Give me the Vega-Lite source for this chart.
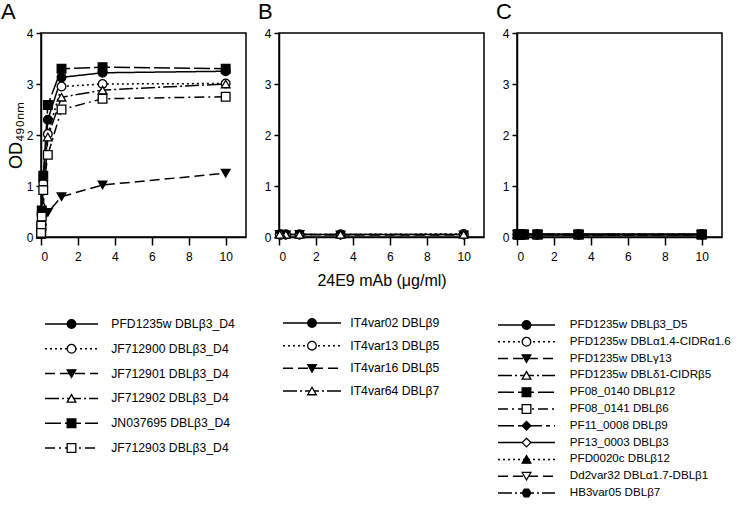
{
  "$schema": "https://vega.github.io/schema/vega-lite/v6.json",
  "background": "white",
  "padding": {"left": 0, "top": 0, "right": 0, "bottom": 0},
  "spacing": 33,
  "bounds": "flush",
  "resolve": {"scale": {"shape": "independent", "fill": "independent", "strokeDash": "independent"}},
  "datasets": {
    "A": [
      {"series": "PFD1235w DBLβ3_D4", "x": 10, "od": 3.25}, {"series": "PFD1235w DBLβ3_D4", "x": 3.333, "od": 3.22}, {"series": "PFD1235w DBLβ3_D4", "x": 1.111, "od": 3.13}, {"series": "PFD1235w DBLβ3_D4", "x": 0.37, "od": 2.30}, {"series": "PFD1235w DBLβ3_D4", "x": 0.123, "od": 1.10}, {"series": "PFD1235w DBLβ3_D4", "x": 0.041, "od": 0.45}, {"series": "PFD1235w DBLβ3_D4", "x": 0.0137, "od": 0.15}, {"series": "PFD1235w DBLβ3_D4", "x": 0.0046, "od": 0.06},
      {"series": "JF712900 DBLβ3_D4", "x": 10, "od": 3.01}, {"series": "JF712900 DBLβ3_D4", "x": 3.333, "od": 3.00}, {"series": "JF712900 DBLβ3_D4", "x": 1.111, "od": 2.95}, {"series": "JF712900 DBLβ3_D4", "x": 0.37, "od": 2.02}, {"series": "JF712900 DBLβ3_D4", "x": 0.123, "od": 1.05}, {"series": "JF712900 DBLβ3_D4", "x": 0.041, "od": 0.42}, {"series": "JF712900 DBLβ3_D4", "x": 0.0137, "od": 0.15}, {"series": "JF712900 DBLβ3_D4", "x": 0.0046, "od": 0.06},
      {"series": "JF712901 DBLβ3_D4", "x": 10, "od": 1.25}, {"series": "JF712901 DBLβ3_D4", "x": 3.333, "od": 1.02}, {"series": "JF712901 DBLβ3_D4", "x": 1.111, "od": 0.79}, {"series": "JF712901 DBLβ3_D4", "x": 0.37, "od": 0.48}, {"series": "JF712901 DBLβ3_D4", "x": 0.123, "od": 0.40}, {"series": "JF712901 DBLβ3_D4", "x": 0.041, "od": 0.18}, {"series": "JF712901 DBLβ3_D4", "x": 0.0137, "od": 0.08}, {"series": "JF712901 DBLβ3_D4", "x": 0.0046, "od": 0.05},
      {"series": "JF712902 DBLβ3_D4", "x": 10, "od": 3.00}, {"series": "JF712902 DBLβ3_D4", "x": 3.333, "od": 2.88}, {"series": "JF712902 DBLβ3_D4", "x": 1.111, "od": 2.74}, {"series": "JF712902 DBLβ3_D4", "x": 0.37, "od": 1.96}, {"series": "JF712902 DBLβ3_D4", "x": 0.123, "od": 0.60}, {"series": "JF712902 DBLβ3_D4", "x": 0.041, "od": 0.30}, {"series": "JF712902 DBLβ3_D4", "x": 0.0137, "od": 0.12}, {"series": "JF712902 DBLβ3_D4", "x": 0.0046, "od": 0.05},
      {"series": "JN037695 DBLβ3_D4", "x": 10, "od": 3.30}, {"series": "JN037695 DBLβ3_D4", "x": 3.333, "od": 3.33}, {"series": "JN037695 DBLβ3_D4", "x": 1.111, "od": 3.30}, {"series": "JN037695 DBLβ3_D4", "x": 0.37, "od": 2.59}, {"series": "JN037695 DBLβ3_D4", "x": 0.123, "od": 1.20}, {"series": "JN037695 DBLβ3_D4", "x": 0.041, "od": 0.52}, {"series": "JN037695 DBLβ3_D4", "x": 0.0137, "od": 0.18}, {"series": "JN037695 DBLβ3_D4", "x": 0.0046, "od": 0.07},
      {"series": "JF712903 DBLβ3_D4", "x": 10, "od": 2.75}, {"series": "JF712903 DBLβ3_D4", "x": 3.333, "od": 2.71}, {"series": "JF712903 DBLβ3_D4", "x": 1.111, "od": 2.50}, {"series": "JF712903 DBLβ3_D4", "x": 0.37, "od": 1.61}, {"series": "JF712903 DBLβ3_D4", "x": 0.123, "od": 0.92}, {"series": "JF712903 DBLβ3_D4", "x": 0.041, "od": 0.40}, {"series": "JF712903 DBLβ3_D4", "x": 0.0137, "od": 0.22}, {"series": "JF712903 DBLβ3_D4", "x": 0.0046, "od": 0.08}
    ],
    "B": [
      {"series": "IT4var02 DBLβ9", "x": 10, "od": 0.05}, {"series": "IT4var02 DBLβ9", "x": 3.333, "od": 0.05}, {"series": "IT4var02 DBLβ9", "x": 1.111, "od": 0.05}, {"series": "IT4var02 DBLβ9", "x": 0.37, "od": 0.05}, {"series": "IT4var02 DBLβ9", "x": 0.123, "od": 0.05}, {"series": "IT4var02 DBLβ9", "x": 0.041, "od": 0.05},
      {"series": "IT4var13 DBLβ5", "x": 10, "od": 0.06}, {"series": "IT4var13 DBLβ5", "x": 3.333, "od": 0.05}, {"series": "IT4var13 DBLβ5", "x": 1.111, "od": 0.05}, {"series": "IT4var13 DBLβ5", "x": 0.37, "od": 0.05}, {"series": "IT4var13 DBLβ5", "x": 0.123, "od": 0.05}, {"series": "IT4var13 DBLβ5", "x": 0.041, "od": 0.05},
      {"series": "IT4var16 DBLβ5", "x": 10, "od": 0.04}, {"series": "IT4var16 DBLβ5", "x": 3.333, "od": 0.04}, {"series": "IT4var16 DBLβ5", "x": 1.111, "od": 0.05}, {"series": "IT4var16 DBLβ5", "x": 0.37, "od": 0.04}, {"series": "IT4var16 DBLβ5", "x": 0.123, "od": 0.05}, {"series": "IT4var16 DBLβ5", "x": 0.041, "od": 0.05},
      {"series": "IT4var64 DBLβ7", "x": 10, "od": 0.05}, {"series": "IT4var64 DBLβ7", "x": 3.333, "od": 0.05}, {"series": "IT4var64 DBLβ7", "x": 1.111, "od": 0.05}, {"series": "IT4var64 DBLβ7", "x": 0.37, "od": 0.05}, {"series": "IT4var64 DBLβ7", "x": 0.123, "od": 0.05}, {"series": "IT4var64 DBLβ7", "x": 0.041, "od": 0.05}
    ],
    "C": [
      {"series": "PFD1235w DBLβ3_D5", "x": 10, "od": 0.05}, {"series": "PFD1235w DBLβ3_D5", "x": 3.333, "od": 0.05}, {"series": "PFD1235w DBLβ3_D5", "x": 1.111, "od": 0.05}, {"series": "PFD1235w DBLβ3_D5", "x": 0.37, "od": 0.05}, {"series": "PFD1235w DBLβ3_D5", "x": 0.123, "od": 0.05}, {"series": "PFD1235w DBLβ3_D5", "x": 0.041, "od": 0.05},
      {"series": "PFD1235w DBLα1.4-CIDRα1.6", "x": 10, "od": 0.05}, {"series": "PFD1235w DBLα1.4-CIDRα1.6", "x": 3.333, "od": 0.05}, {"series": "PFD1235w DBLα1.4-CIDRα1.6", "x": 1.111, "od": 0.05}, {"series": "PFD1235w DBLα1.4-CIDRα1.6", "x": 0.37, "od": 0.05}, {"series": "PFD1235w DBLα1.4-CIDRα1.6", "x": 0.123, "od": 0.05}, {"series": "PFD1235w DBLα1.4-CIDRα1.6", "x": 0.041, "od": 0.05},
      {"series": "PFD1235w DBLγ13", "x": 10, "od": 0.04}, {"series": "PFD1235w DBLγ13", "x": 3.333, "od": 0.04}, {"series": "PFD1235w DBLγ13", "x": 1.111, "od": 0.05}, {"series": "PFD1235w DBLγ13", "x": 0.37, "od": 0.05}, {"series": "PFD1235w DBLγ13", "x": 0.123, "od": 0.05}, {"series": "PFD1235w DBLγ13", "x": 0.041, "od": 0.05},
      {"series": "PFD1235w DBLδ1-CIDRβ5", "x": 10, "od": 0.05}, {"series": "PFD1235w DBLδ1-CIDRβ5", "x": 3.333, "od": 0.05}, {"series": "PFD1235w DBLδ1-CIDRβ5", "x": 1.111, "od": 0.05}, {"series": "PFD1235w DBLδ1-CIDRβ5", "x": 0.37, "od": 0.05}, {"series": "PFD1235w DBLδ1-CIDRβ5", "x": 0.123, "od": 0.05}, {"series": "PFD1235w DBLδ1-CIDRβ5", "x": 0.041, "od": 0.05},
      {"series": "PF08_0140 DBLβ12", "x": 10, "od": 0.05}, {"series": "PF08_0140 DBLβ12", "x": 3.333, "od": 0.05}, {"series": "PF08_0140 DBLβ12", "x": 1.111, "od": 0.05}, {"series": "PF08_0140 DBLβ12", "x": 0.37, "od": 0.05}, {"series": "PF08_0140 DBLβ12", "x": 0.123, "od": 0.05}, {"series": "PF08_0140 DBLβ12", "x": 0.041, "od": 0.05},
      {"series": "PF08_0141 DBLβ6", "x": 10, "od": 0.05}, {"series": "PF08_0141 DBLβ6", "x": 3.333, "od": 0.05}, {"series": "PF08_0141 DBLβ6", "x": 1.111, "od": 0.05}, {"series": "PF08_0141 DBLβ6", "x": 0.37, "od": 0.05}, {"series": "PF08_0141 DBLβ6", "x": 0.123, "od": 0.05}, {"series": "PF08_0141 DBLβ6", "x": 0.041, "od": 0.05},
      {"series": "PF11_0008 DBLβ9", "x": 10, "od": 0.05}, {"series": "PF11_0008 DBLβ9", "x": 3.333, "od": 0.05}, {"series": "PF11_0008 DBLβ9", "x": 1.111, "od": 0.05}, {"series": "PF11_0008 DBLβ9", "x": 0.37, "od": 0.05}, {"series": "PF11_0008 DBLβ9", "x": 0.123, "od": 0.05}, {"series": "PF11_0008 DBLβ9", "x": 0.041, "od": 0.05},
      {"series": "PF13_0003 DBLβ3", "x": 10, "od": 0.05}, {"series": "PF13_0003 DBLβ3", "x": 3.333, "od": 0.05}, {"series": "PF13_0003 DBLβ3", "x": 1.111, "od": 0.05}, {"series": "PF13_0003 DBLβ3", "x": 0.37, "od": 0.05}, {"series": "PF13_0003 DBLβ3", "x": 0.123, "od": 0.05}, {"series": "PF13_0003 DBLβ3", "x": 0.041, "od": 0.05},
      {"series": "PFD0020c DBLβ12", "x": 10, "od": 0.05}, {"series": "PFD0020c DBLβ12", "x": 3.333, "od": 0.05}, {"series": "PFD0020c DBLβ12", "x": 1.111, "od": 0.05}, {"series": "PFD0020c DBLβ12", "x": 0.37, "od": 0.05}, {"series": "PFD0020c DBLβ12", "x": 0.123, "od": 0.05}, {"series": "PFD0020c DBLβ12", "x": 0.041, "od": 0.05},
      {"series": "Dd2var32 DBLα1.7-DBLβ1", "x": 10, "od": 0.05}, {"series": "Dd2var32 DBLα1.7-DBLβ1", "x": 3.333, "od": 0.05}, {"series": "Dd2var32 DBLα1.7-DBLβ1", "x": 1.111, "od": 0.05}, {"series": "Dd2var32 DBLα1.7-DBLβ1", "x": 0.37, "od": 0.05}, {"series": "Dd2var32 DBLα1.7-DBLβ1", "x": 0.123, "od": 0.05}, {"series": "Dd2var32 DBLα1.7-DBLβ1", "x": 0.041, "od": 0.05},
      {"series": "HB3var05 DBLβ7", "x": 10, "od": 0.05}, {"series": "HB3var05 DBLβ7", "x": 3.333, "od": 0.05}, {"series": "HB3var05 DBLβ7", "x": 1.111, "od": 0.05}, {"series": "HB3var05 DBLβ7", "x": 0.37, "od": 0.05}, {"series": "HB3var05 DBLβ7", "x": 0.123, "od": 0.05}, {"series": "HB3var05 DBLβ7", "x": 0.041, "od": 0.05}
    ]
  },
  "hconcat": [
    {
      "title": {"text": "A", "anchor": "start", "frame": "group", "dx": -40, "fontSize": 22, "fontWeight": "normal", "offset": 3, "font": "Liberation Sans", "color": "black"},
      "width": 205, "height": 204,
      "data": {"name": "A"},
      "resolve": {"scale": {"x": "independent", "y": "independent"}},
      "layer": [
        {
          "layer": [
            {
              "mark": {"type": "line", "strokeWidth": 1.5, "color": "black"},
              "encoding": {
                "x": {"field": "x", "type": "quantitative", "scale": {"domain": [0, 11.1], "nice": false}, "axis": {"values": [0, 2, 4, 6, 8, 10], "title": null}},
                "y": {"field": "od", "type": "quantitative", "scale": {"domain": [0, 4], "nice": false}, "axis": {"values": [0, 1, 2, 3, 4], "format": "d", "title": "OD₄₉₀ₙₘ"}},
                "strokeDash": {"field": "series", "type": "nominal", "legend": null, "scale": {"domain": ["PFD1235w DBLβ3_D4", "JF712900 DBLβ3_D4", "JF712901 DBLβ3_D4", "JF712902 DBLβ3_D4", "JN037695 DBLβ3_D4", "JF712903 DBLβ3_D4"], "range": [[1, 0], [2, 3], [10, 5], [14, 3, 2, 3], [16, 4], [10, 4, 2, 4]]}}
              }
            },
            {
              "mark": {"type": "point", "filled": true, "size": 75, "stroke": "black", "strokeWidth": 1.3, "opacity": 1},
              "encoding": {
                "x": {"field": "x", "type": "quantitative"},
                "y": {"field": "od", "type": "quantitative"},
                "shape": {"field": "series", "type": "nominal", "legend": null, "scale": {"domain": ["PFD1235w DBLβ3_D4", "JF712900 DBLβ3_D4", "JF712901 DBLβ3_D4", "JF712902 DBLβ3_D4", "JN037695 DBLβ3_D4", "JF712903 DBLβ3_D4"], "range": ["circle", "circle", "triangle-down", "triangle-up", "square", "square"]}},
                "fill": {"field": "series", "type": "nominal", "legend": null, "scale": {"domain": ["PFD1235w DBLβ3_D4", "JF712900 DBLβ3_D4", "JF712901 DBLβ3_D4", "JF712902 DBLβ3_D4", "JN037695 DBLβ3_D4", "JF712903 DBLβ3_D4"], "range": ["black", "white", "black", "white", "black", "white"]}}
              }
            }
          ]
        },
        {
          "transform": [{"filter": {"field": "x", "equal": 10}}],
          "layer": [
            {
              "mark": {"type": "rule", "strokeWidth": 1.5, "color": "black"},
              "encoding": {
                "x": {"datum": 0, "type": "quantitative", "scale": {"domain": [0, 1], "range": [4, 57]}, "axis": null},
                "x2": {"datum": 1},
                "y": {"field": "series", "type": "nominal", "scale": {"type": "point", "padding": 0, "domain": ["PFD1235w DBLβ3_D4", "JF712900 DBLβ3_D4", "JF712901 DBLβ3_D4", "JF712902 DBLβ3_D4", "JN037695 DBLβ3_D4", "JF712903 DBLβ3_D4"], "range": [291, 415]}, "axis": null},
                "strokeDash": {"field": "series", "type": "nominal", "legend": null, "scale": {"domain": ["PFD1235w DBLβ3_D4", "JF712900 DBLβ3_D4", "JF712901 DBLβ3_D4", "JF712902 DBLβ3_D4", "JN037695 DBLβ3_D4", "JF712903 DBLβ3_D4"], "range": [[1, 0], [2, 3], [10, 5], [14, 3, 2, 3], [16, 4], [10, 4, 2, 4]]}}
              }
            },
            {
              "mark": {"type": "point", "filled": true, "size": 75, "stroke": "black", "strokeWidth": 1.3, "opacity": 1},
              "encoding": {
                "x": {"datum": 0.5, "type": "quantitative"},
                "y": {"field": "series", "type": "nominal"},
                "shape": {"field": "series", "type": "nominal", "legend": null, "scale": {"domain": ["PFD1235w DBLβ3_D4", "JF712900 DBLβ3_D4", "JF712901 DBLβ3_D4", "JF712902 DBLβ3_D4", "JN037695 DBLβ3_D4", "JF712903 DBLβ3_D4"], "range": ["circle", "circle", "triangle-down", "triangle-up", "square", "square"]}},
                "fill": {"field": "series", "type": "nominal", "legend": null, "scale": {"domain": ["PFD1235w DBLβ3_D4", "JF712900 DBLβ3_D4", "JF712901 DBLβ3_D4", "JF712902 DBLβ3_D4", "JN037695 DBLβ3_D4", "JF712903 DBLβ3_D4"], "range": ["black", "white", "black", "white", "black", "white"]}}
              }
            },
            {
              "mark": {"type": "text", "align": "left", "baseline": "middle", "fontSize": 12.2, "font": "Liberation Sans", "color": "black"},
              "encoding": {
                "x": {"datum": 1.25, "type": "quantitative"},
                "y": {"field": "series", "type": "nominal"},
                "text": {"field": "series"}
              }
            }
          ]
        }
      ]
    },
    {
      "title": {"text": "B", "anchor": "start", "frame": "group", "dx": -21, "fontSize": 22, "fontWeight": "normal", "offset": 3, "font": "Liberation Sans", "color": "black"},
      "width": 205, "height": 204,
      "data": {"name": "B"},
      "resolve": {"scale": {"x": "independent", "y": "independent"}},
      "layer": [
        {
          "layer": [
            {
              "mark": {"type": "line", "strokeWidth": 1.5, "color": "black"},
              "encoding": {
                "x": {"field": "x", "type": "quantitative", "scale": {"domain": [0, 11.1], "nice": false}, "axis": {"values": [0, 2, 4, 6, 8, 10], "title": "24E9 mAb (μg/ml)"}},
                "y": {"field": "od", "type": "quantitative", "scale": {"domain": [0, 4], "nice": false}, "axis": {"values": [0, 1, 2, 3, 4], "format": "d", "title": null}},
                "strokeDash": {"field": "series", "type": "nominal", "legend": null, "scale": {"domain": ["IT4var02 DBLβ9", "IT4var13 DBLβ5", "IT4var16 DBLβ5", "IT4var64 DBLβ7"], "range": [[1, 0], [2, 3], [10, 5], [14, 3, 2, 3]]}}
              }
            },
            {
              "mark": {"type": "point", "filled": true, "size": 75, "stroke": "black", "strokeWidth": 1.3, "opacity": 1},
              "encoding": {
                "x": {"field": "x", "type": "quantitative"},
                "y": {"field": "od", "type": "quantitative"},
                "shape": {"field": "series", "type": "nominal", "legend": null, "scale": {"domain": ["IT4var02 DBLβ9", "IT4var13 DBLβ5", "IT4var16 DBLβ5", "IT4var64 DBLβ7"], "range": ["circle", "circle", "triangle-down", "triangle-up"]}},
                "fill": {"field": "series", "type": "nominal", "legend": null, "scale": {"domain": ["IT4var02 DBLβ9", "IT4var13 DBLβ5", "IT4var16 DBLβ5", "IT4var64 DBLβ7"], "range": ["black", "white", "black", "white"]}}
              }
            }
          ]
        },
        {
          "transform": [{"filter": {"field": "x", "equal": 10}}],
          "layer": [
            {
              "mark": {"type": "rule", "strokeWidth": 1.5, "color": "black"},
              "encoding": {
                "x": {"datum": 0, "type": "quantitative", "scale": {"domain": [0, 1], "range": [4, 62]}, "axis": null},
                "x2": {"datum": 1},
                "y": {"field": "series", "type": "nominal", "scale": {"type": "point", "padding": 0, "domain": ["IT4var02 DBLβ9", "IT4var13 DBLβ5", "IT4var16 DBLβ5", "IT4var64 DBLβ7"], "range": [290, 358]}, "axis": null},
                "strokeDash": {"field": "series", "type": "nominal", "legend": null, "scale": {"domain": ["IT4var02 DBLβ9", "IT4var13 DBLβ5", "IT4var16 DBLβ5", "IT4var64 DBLβ7"], "range": [[1, 0], [2, 3], [10, 5], [14, 3, 2, 3]]}}
              }
            },
            {
              "mark": {"type": "point", "filled": true, "size": 75, "stroke": "black", "strokeWidth": 1.3, "opacity": 1},
              "encoding": {
                "x": {"datum": 0.5, "type": "quantitative"},
                "y": {"field": "series", "type": "nominal"},
                "shape": {"field": "series", "type": "nominal", "legend": null, "scale": {"domain": ["IT4var02 DBLβ9", "IT4var13 DBLβ5", "IT4var16 DBLβ5", "IT4var64 DBLβ7"], "range": ["circle", "circle", "triangle-down", "triangle-up"]}},
                "fill": {"field": "series", "type": "nominal", "legend": null, "scale": {"domain": ["IT4var02 DBLβ9", "IT4var13 DBLβ5", "IT4var16 DBLβ5", "IT4var64 DBLβ7"], "range": ["black", "white", "black", "white"]}}
              }
            },
            {
              "mark": {"type": "text", "align": "left", "baseline": "middle", "fontSize": 12.2, "font": "Liberation Sans", "color": "black"},
              "encoding": {
                "x": {"datum": 1.16, "type": "quantitative"},
                "y": {"field": "series", "type": "nominal"},
                "text": {"field": "series"}
              }
            }
          ]
        }
      ]
    },
    {
      "title": {"text": "C", "anchor": "start", "frame": "group", "dx": -21, "fontSize": 22, "fontWeight": "normal", "offset": 3, "font": "Liberation Sans", "color": "black"},
      "width": 205, "height": 204,
      "data": {"name": "C"},
      "resolve": {"scale": {"x": "independent", "y": "independent"}},
      "layer": [
        {
          "layer": [
            {
              "mark": {"type": "line", "strokeWidth": 1.5, "color": "black"},
              "encoding": {
                "x": {"field": "x", "type": "quantitative", "scale": {"domain": [0, 11.1], "nice": false}, "axis": {"values": [0, 2, 4, 6, 8, 10], "title": null}},
                "y": {"field": "od", "type": "quantitative", "scale": {"domain": [0, 4], "nice": false}, "axis": {"values": [0, 1, 2, 3, 4], "format": "d", "title": null}},
                "strokeDash": {"field": "series", "type": "nominal", "legend": null, "scale": {"domain": ["PFD1235w DBLβ3_D5", "PFD1235w DBLα1.4-CIDRα1.6", "PFD1235w DBLγ13", "PFD1235w DBLδ1-CIDRβ5", "PF08_0140 DBLβ12", "PF08_0141 DBLβ6", "PF11_0008 DBLβ9", "PF13_0003 DBLβ3", "PFD0020c DBLβ12", "Dd2var32 DBLα1.7-DBLβ1", "HB3var05 DBLβ7"], "range": [[1, 0], [2, 3], [10, 5], [14, 3, 2, 3], [16, 4], [10, 4, 2, 4], [16, 4, 4, 4], [1, 0], [2, 3], [10, 5], [14, 3, 2, 3]]}}
              }
            },
            {
              "mark": {"type": "point", "filled": true, "size": 75, "stroke": "black", "strokeWidth": 1.3, "opacity": 1},
              "encoding": {
                "x": {"field": "x", "type": "quantitative"},
                "y": {"field": "od", "type": "quantitative"},
                "shape": {"field": "series", "type": "nominal", "legend": null, "scale": {"domain": ["PFD1235w DBLβ3_D5", "PFD1235w DBLα1.4-CIDRα1.6", "PFD1235w DBLγ13", "PFD1235w DBLδ1-CIDRβ5", "PF08_0140 DBLβ12", "PF08_0141 DBLβ6", "PF11_0008 DBLβ9", "PF13_0003 DBLβ3", "PFD0020c DBLβ12", "Dd2var32 DBLα1.7-DBLβ1", "HB3var05 DBLβ7"], "range": ["circle", "circle", "triangle-down", "triangle-up", "square", "square", "diamond", "diamond", "triangle-up", "triangle-down", "M-1,0L-0.5,-0.866L0.5,-0.866L1,0L0.5,0.866L-0.5,0.866Z"]}},
                "fill": {"field": "series", "type": "nominal", "legend": null, "scale": {"domain": ["PFD1235w DBLβ3_D5", "PFD1235w DBLα1.4-CIDRα1.6", "PFD1235w DBLγ13", "PFD1235w DBLδ1-CIDRβ5", "PF08_0140 DBLβ12", "PF08_0141 DBLβ6", "PF11_0008 DBLβ9", "PF13_0003 DBLβ3", "PFD0020c DBLβ12", "Dd2var32 DBLα1.7-DBLβ1", "HB3var05 DBLβ7"], "range": ["black", "white", "black", "white", "black", "white", "black", "white", "black", "white", "black"]}}
              }
            }
          ]
        },
        {
          "transform": [{"filter": {"field": "x", "equal": 10}}],
          "layer": [
            {
              "mark": {"type": "rule", "strokeWidth": 1.5, "color": "black"},
              "encoding": {
                "x": {"datum": 0, "type": "quantitative", "scale": {"domain": [0, 1], "range": [-19, 38]}, "axis": null},
                "x2": {"datum": 1},
                "y": {"field": "series", "type": "nominal", "scale": {"type": "point", "padding": 0, "domain": ["PFD1235w DBLβ3_D5", "PFD1235w DBLα1.4-CIDRα1.6", "PFD1235w DBLγ13", "PFD1235w DBLδ1-CIDRβ5", "PF08_0140 DBLβ12", "PF08_0141 DBLβ6", "PF11_0008 DBLβ9", "PF13_0003 DBLβ3", "PFD0020c DBLβ12", "Dd2var32 DBLα1.7-DBLβ1", "HB3var05 DBLβ7"], "range": [292, 460]}, "axis": null},
                "strokeDash": {"field": "series", "type": "nominal", "legend": null, "scale": {"domain": ["PFD1235w DBLβ3_D5", "PFD1235w DBLα1.4-CIDRα1.6", "PFD1235w DBLγ13", "PFD1235w DBLδ1-CIDRβ5", "PF08_0140 DBLβ12", "PF08_0141 DBLβ6", "PF11_0008 DBLβ9", "PF13_0003 DBLβ3", "PFD0020c DBLβ12", "Dd2var32 DBLα1.7-DBLβ1", "HB3var05 DBLβ7"], "range": [[1, 0], [2, 3], [10, 5], [14, 3, 2, 3], [16, 4], [10, 4, 2, 4], [16, 4, 4, 4], [1, 0], [2, 3], [10, 5], [14, 3, 2, 3]]}}
              }
            },
            {
              "mark": {"type": "point", "filled": true, "size": 75, "stroke": "black", "strokeWidth": 1.3, "opacity": 1},
              "encoding": {
                "x": {"datum": 0.5, "type": "quantitative"},
                "y": {"field": "series", "type": "nominal"},
                "shape": {"field": "series", "type": "nominal", "legend": null, "scale": {"domain": ["PFD1235w DBLβ3_D5", "PFD1235w DBLα1.4-CIDRα1.6", "PFD1235w DBLγ13", "PFD1235w DBLδ1-CIDRβ5", "PF08_0140 DBLβ12", "PF08_0141 DBLβ6", "PF11_0008 DBLβ9", "PF13_0003 DBLβ3", "PFD0020c DBLβ12", "Dd2var32 DBLα1.7-DBLβ1", "HB3var05 DBLβ7"], "range": ["circle", "circle", "triangle-down", "triangle-up", "square", "square", "diamond", "diamond", "triangle-up", "triangle-down", "M-1,0L-0.5,-0.866L0.5,-0.866L1,0L0.5,0.866L-0.5,0.866Z"]}},
                "fill": {"field": "series", "type": "nominal", "legend": null, "scale": {"domain": ["PFD1235w DBLβ3_D5", "PFD1235w DBLα1.4-CIDRα1.6", "PFD1235w DBLγ13", "PFD1235w DBLδ1-CIDRβ5", "PF08_0140 DBLβ12", "PF08_0141 DBLβ6", "PF11_0008 DBLβ9", "PF13_0003 DBLβ3", "PFD0020c DBLβ12", "Dd2var32 DBLα1.7-DBLβ1", "HB3var05 DBLβ7"], "range": ["black", "white", "black", "white", "black", "white", "black", "white", "black", "white", "black"]}}
              }
            },
            {
              "mark": {"type": "text", "align": "left", "baseline": "middle", "fontSize": 11.6, "font": "Liberation Sans", "color": "black"},
              "encoding": {
                "x": {"datum": 1.26, "type": "quantitative"},
                "y": {"field": "series", "type": "nominal"},
                "text": {"field": "series"}
              }
            }
          ]
        }
      ]
    }
  ],
  "config": {
    "view": {"stroke": "black", "strokeWidth": 1.5},
    "axis": {"grid": false, "domainColor": "black", "domainWidth": 1.5, "tickColor": "black", "tickWidth": 1.5, "labelFont": "Liberation Sans", "labelFontSize": 12, "labelColor": "black", "titleFont": "Liberation Sans", "titleFontWeight": "normal", "titleColor": "black"},
    "axisX": {"tickSize": 8, "labelPadding": 6, "titleFontSize": 16, "titlePadding": 10},
    "axisY": {"tickSize": 5, "labelPadding": 3, "titleFontSize": 18, "titlePadding": 1}
  }
}
